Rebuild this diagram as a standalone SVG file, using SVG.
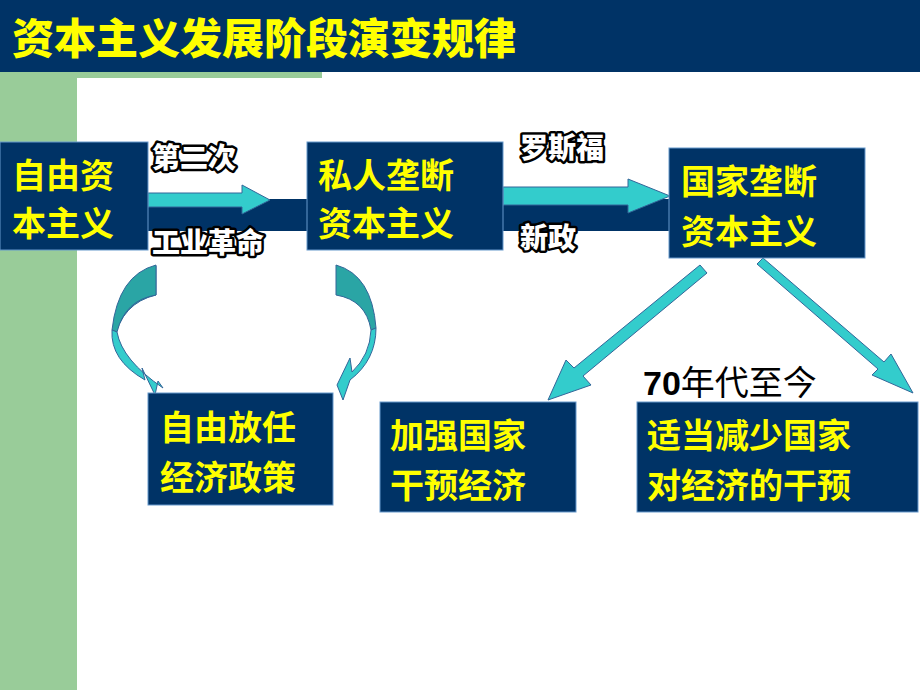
<svg xmlns="http://www.w3.org/2000/svg" width="920" height="690" viewBox="0 0 920 690">
<style>
.box{fill:#003366;stroke:#6699cc;stroke-width:1}
.yt{font-family:"Noto Sans CJK SC",sans-serif;font-weight:bold;font-size:34px;fill:#ffff00}
.ot{font-family:"Noto Sans CJK SC",sans-serif;font-weight:900;font-size:28px;fill:#fff;stroke:#000;stroke-width:5;paint-order:stroke;stroke-linejoin:round}
.ar{fill:#33cccc;stroke:#336699;stroke-width:1}
.ar2{fill:#2aa5a5;stroke:#336699;stroke-width:1}
</style>
<rect width="920" height="690" fill="#fff"/>
<rect x="0" y="72" width="77" height="618" fill="#99cc99"/>
<rect x="0" y="72" width="322" height="6" fill="#99cc99"/>
<path d="M77 690V107Q77 78 106 78H920V690Z" fill="#fff"/>
<rect x="0" y="0" width="920" height="72" fill="#003366"/>
<text x="12" y="54" font-family="'Noto Sans CJK SC',sans-serif" font-weight="900" font-size="42" fill="#ffff00">资本主义发展阶段演变规律</text>
<g id="connectors">
<rect x="140" y="199" width="540" height="32" fill="#003366"/>
<path class="ar" d="M148 193H242V185L270 200L242 214V207H148Z"/>
<path class="ar" d="M503 187H628V179L670 196L628 213V205H503Z"/>
<path class="ar2" d="M156 265V293Q120 300 113 330Q112 350 135 362L142 368L142 292Q120 292 112 330Z" opacity="0"/>
<path class="ar2" d="M156 266V295Q122 303 114 340Q120 300 156 266Z"/>
<path class="ar2" d="M156 265Q118 275 112 330L117 332Q125 300 156 295Z"/>
<path class="ar" d="M112 330Q110 360 145 380L142 368L155 395L158 381L163 388Q122 360 117 332Z"/>
<path class="ar2" d="M336 265V295Q366 300 371 330L376 328Q372 275 336 265Z"/>
<path class="ar" d="M371 330Q370 355 352 372L350 358L337 385L343 400L350 380Q376 360 376 328Z"/>
<path class="ar" d="M700 265L707 273L583 376L591 385L548 400L566 360L574 368Z"/>
<path class="ar" d="M757 264L763 258L884 362L891 354L913 393L872 375L878 369Z"/>
</g>
<g id="n1"><rect class="box" x="0" y="142" width="148" height="108"/><text class="yt" x="12" y="188">自由资</text><text class="yt" x="12" y="236">本主义</text></g>
<g id="n2"><rect class="box" x="307" y="142" width="196" height="108"/><text class="yt" x="318" y="188">私人垄断</text><text class="yt" x="318" y="236">资本主义</text></g>
<g id="n3"><rect class="box" x="669" y="148" width="196" height="110"/><text class="yt" x="681" y="194">国家垄断</text><text class="yt" x="681" y="244">资本主义</text></g>
<g id="n4"><rect class="box" x="148" y="393" width="185" height="112"/><text class="yt" x="160" y="440">自由放任</text><text class="yt" x="160" y="490">经济政策</text></g>
<g id="n5"><rect class="box" x="380" y="402" width="196" height="110"/><text class="yt" x="390" y="448">加强国家</text><text class="yt" x="390" y="498">干预经济</text></g>
<g id="n6"><rect class="box" x="637" y="402" width="281" height="110"/><text class="yt" x="647" y="448">适当减少国家</text><text class="yt" x="647" y="498">对经济的干预</text></g>
<g id="labels">
<text class="ot" x="152" y="168">第二次</text>
<text class="ot" x="152" y="253">工业革命</text>
<text class="ot" x="520" y="158">罗斯福</text>
<text class="ot" x="520" y="248">新政</text>
<text x="643" y="395" font-family="'Noto Sans CJK SC',sans-serif" font-size="34" fill="#000"><tspan font-family="'Liberation Sans',sans-serif" font-weight="bold">70</tspan>年代至今</text>
</g>
</svg>
